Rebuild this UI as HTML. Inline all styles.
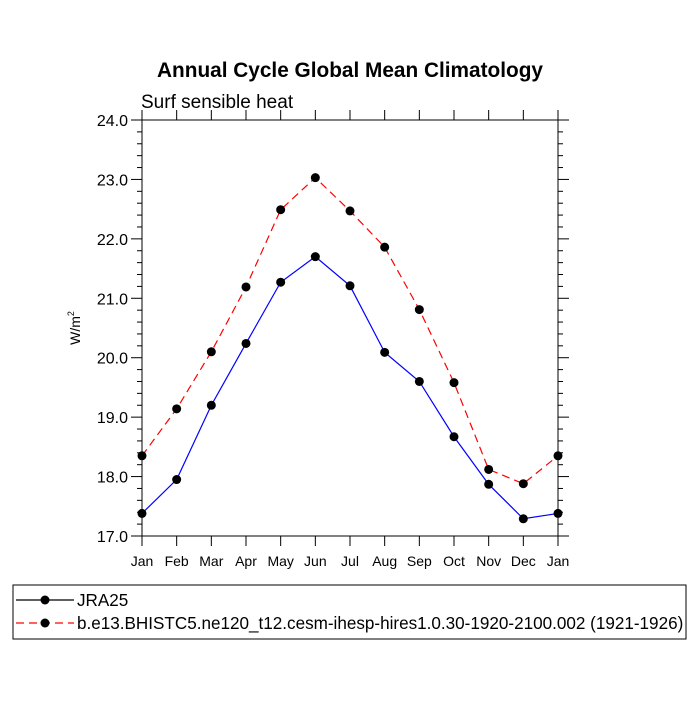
<!DOCTYPE html>
<html><head><meta charset="utf-8"><style>
body{margin:0;background:#fff;width:700px;height:700px;overflow:hidden}
svg text{font-family:"Liberation Sans",sans-serif;}
</style></head><body>
<svg id="c" width="700" height="700" xmlns="http://www.w3.org/2000/svg"></svg>
<script>
const months=["Jan","Feb","Mar","Apr","May","Jun","Jul","Aug","Sep","Oct","Nov","Dec","Jan"];
const jra=[17.38,17.95,19.2,20.24,21.27,21.7,21.21,20.09,19.6,18.67,17.87,17.29,17.38];
const cesm=[18.35,19.14,20.1,21.19,22.49,23.03,22.47,21.86,20.81,19.58,18.12,17.88,18.35];
const yTicks=[17,18,19,20,21,22,23,24];
const yLabels=["17.0","18.0","19.0","20.0","21.0","22.0","23.0","24.0"];
const X0=142,X1=558,Y0=120,Y1=536,ymin=17,ymax=24;
const sx=i=>X0+(X1-X0)*i/(months.length-1);
const sy=v=>Y1-(v-ymin)/(ymax-ymin)*(Y1-Y0);
const svg=document.getElementById('c');
const NS="http://www.w3.org/2000/svg";
function mk(t,a,p){const e=document.createElementNS(NS,t);for(const k in a)e.setAttribute(k,a[k]);(p||svg).appendChild(e);return e;}
function txt(x,y,s,sz,anchor,w){const e=mk('text',{x:x,y:y,'font-size':sz,'text-anchor':anchor||'middle','font-weight':w||'normal'});e.textContent=s;return e;}
let t=txt(350,77,"Annual Cycle Global Mean Climatology",20.8,'middle','bold');


t=txt(141,108,"Surf sensible heat",19,'start');


t=mk('text',{x:0,y:0,'font-size':14,'text-anchor':'middle',transform:'translate(80,328) rotate(-90)'});
t.innerHTML='W/m<tspan dy="-6" font-size="9">2</tspan>';


let fr=mk('rect',{x:X0,y:Y0,width:X1-X0,height:Y1-Y0,fill:'none',stroke:'#000','stroke-width':1});


for(let v=17;v<=24.001;v+=0.2){const y=sy(v);const maj=Math.abs(v-Math.round(v))<0.01;const L=maj?11:5;
 mk('line',{x1:X0-L,x2:X0,y1:y,y2:y,stroke:'#000'});mk('line',{x1:X1,x2:X1+L,y1:y,y2:y,stroke:'#000'});}
yTicks.forEach((v,i)=>{const e=txt(X0-14,sy(v)+6,yLabels[i],16,'end');
 
 });
months.forEach((m,i)=>{const x=sx(i);mk('line',{x1:x,x2:x,y1:Y1,y2:Y1+10,stroke:'#000'});mk('line',{x1:x,x2:x,y1:Y0-10,y2:Y0,stroke:'#000'});
 const e=txt(x,Y1+30,m,14);
 
 });
function series(d,col,dash,name){
 const p=mk('polyline',{points:d.map((v,i)=>sx(i)+','+sy(v)).join(' '),fill:'none',stroke:col,'stroke-width':1.2,'stroke-dasharray':dash});
 
 
 d.forEach((v,i)=>{const c=mk('circle',{cx:sx(i),cy:sy(v),r:4.5,fill:'#000'});
  
  });
}
series(jra,'#00f','none','jra25');
series(cesm,'#f00','8,5','cesm');
let lg=mk('rect',{x:13,y:585,width:673,height:54,fill:'none',stroke:'#000','stroke-width':1});


mk('line',{x1:16,x2:74,y1:600,y2:600,stroke:'#000','stroke-width':1.2});
mk('circle',{cx:45,cy:600,r:4.5,fill:'#000'});
t=txt(77,606,"JRA25",17.1,'start');


mk('line',{x1:16,x2:74,y1:623,y2:623,stroke:'#f00','stroke-width':1.2,'stroke-dasharray':'8,5'});
mk('circle',{cx:45,cy:623,r:4.5,fill:'#000'});
t=txt(77,629,"b.e13.BHISTC5.ne120_t12.cesm-ihesp-hires1.0.30-1920-2100.002 (1921-1926)",17.1,'start');


</script>
</body></html>
